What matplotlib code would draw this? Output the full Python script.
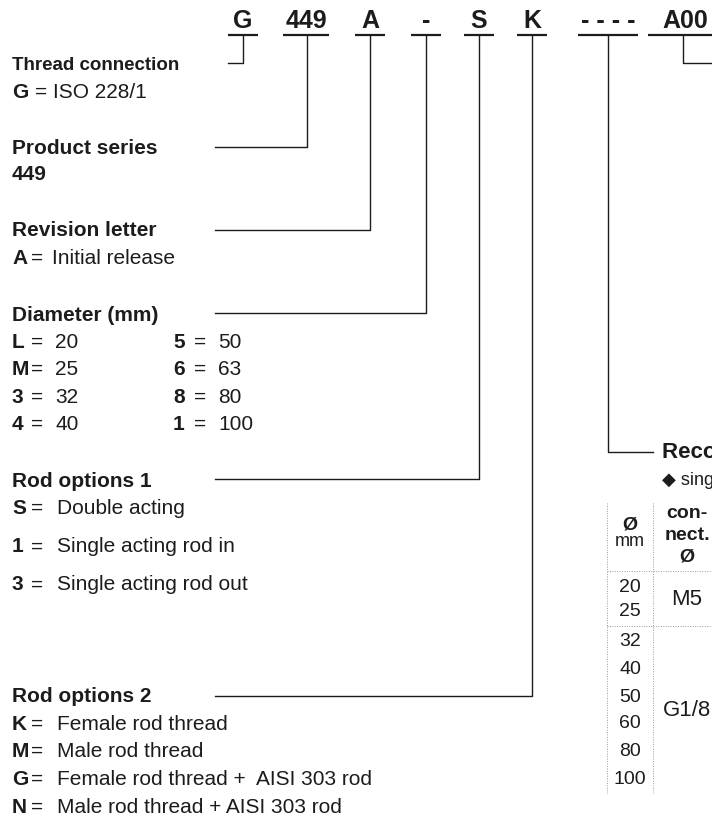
"""Ordering code key for the G449 cylinder series."""
import matplotlib.pyplot as plt

plt.rcParams["font.family"] = ["Liberation Sans", "DejaVu Sans"]
NARROW = ["Liberation Sans Narrow", "Liberation Sans", "DejaVu Sans"]

INK = "#1c1c1c"
GRID = "#9a9a9a"

# code segments along the top and the label each one points to
CODE_SEGMENTS = ["G", "449", "A", "-", "S", "K", "- - - -", "A00"]

HEADINGS = [
    "Thread connection",
    "Product series",
    "Revision letter",
    "Diameter (mm)",
    "Rod options 1",
    "Rod options 2",
]

THREAD_OPTS = [("G", "ISO 228/1")]
SERIES_OPTS = ["449"]
REVISION_OPTS = [("A", "Initial release")]
DIAMETER_KEYS_1 = ["L", "M", "3", "4"]
DIAMETER_VALS_1 = ["20", "25", "32", "40"]
DIAMETER_KEYS_2 = ["5", "6", "8", "1"]
DIAMETER_VALS_2 = ["50", "63", "80", "100"]
ROD1_OPTS = [("S", "Double acting"), ("1", "Single acting rod in"),
             ("3", "Single acting rod out")]
ROD2_OPTS = [("K", "Female rod thread"), ("M", "Male rod thread"),
             ("G", "Female rod thread +  AISI 303 rod"),
             ("N", "Male rod thread + AISI 303 rod")]

FITTING_TITLE = "Recommended fittings"
FITTING_NOTE = "\u25c6 single acting"
TABLE_BORES = ["20", "25", "32", "40", "50", "60", "80", "100"]
TABLE_CONNECT = [("M5", 2), ("G1/8", 6)]  # connection, number of bore rows

# --- layout (pixels, origin top-left) ---
SEG_X = [(228, 258), (283, 329), (355, 385), (411, 441), (464, 494),
         (517, 547), (578, 638), (648, 712)]
SEG_TEXT_X = [243, 306, 370, 426, 479, 532, 608, 662]
HEAD_Y = [65, 148, 230, 315, 481, 696]
HEAD_SIZE = [13.5, 15, 15, 15, 15, 15]
LINE_Y = [None, 147, 230, 313, 479, 696]
DROP_X = [243, 307, 370, 426, 479, 532]
FS = 15

fig = plt.figure(figsize=(7.12, 8.17), dpi=100)
ax = fig.add_axes([0, 0, 1, 1])
ax.set_xlim(0, 712)
ax.set_ylim(817, 0)
ax.set_axis_off()

# top code row
for seg, (x0, x1), tx in zip(CODE_SEGMENTS, SEG_X, SEG_TEXT_X):
    ha = "left" if seg == "A00" else "center"
    ax.text(tx, 21, seg, fontsize=18, fontweight="bold", color=INK,
            ha=ha, va="center")
    ax.plot([x0, x1], [35, 35], color=INK, lw=1.6, solid_capstyle="butt")

# connectors to the left-hand headings
ax.plot([243, 243, 228], [35, 63, 63], color=INK, lw=1.0)
for x, y in zip(DROP_X[1:], LINE_Y[1:]):
    ax.plot([x, x, 215], [35, y, y], color=INK, lw=1.0)
# connectors to the right
ax.plot([608, 608, 653], [35, 452, 452], color=INK, lw=1.0)
ax.plot([683, 683, 712], [35, 63, 63], color=INK, lw=1.0)

for head, y, s in zip(HEADINGS, HEAD_Y, HEAD_SIZE):
    ax.text(12, y, head, fontsize=s, fontweight="bold", color=INK,
            va="center")


def option(y, key, value, kx=12, ex=37, vx=55):
    ax.text(kx, y, key, fontsize=FS, fontweight="bold", color=INK, va="center")
    ax.text(ex, y, "=", fontsize=FS, color=INK, ha="center", va="center")
    ax.text(vx, y, value, fontsize=FS, color=INK, va="center")


option(92, *THREAD_OPTS[0], ex=41, vx=53)
ax.text(12, 174, SERIES_OPTS[0], fontsize=FS, fontweight="bold", color=INK,
        va="center")
option(258, *REVISION_OPTS[0], vx=52)

for i, (k, v) in enumerate(zip(DIAMETER_KEYS_1, DIAMETER_VALS_1)):
    option(342 + 27.5 * i, k, v)
for i, (k, v) in enumerate(zip(DIAMETER_KEYS_2, DIAMETER_VALS_2)):
    option(342 + 27.5 * i, k, v, kx=173, ex=200, vx=218)

for (k, v), y in zip(ROD1_OPTS, [508, 547, 585]):
    option(y, k, v, vx=57)
for i, (k, v) in enumerate(ROD2_OPTS):
    option(724 + 27.7 * i, k, v, vx=57)

# right-hand fittings table (cut by the page edge)
ax.text(662, 452, FITTING_TITLE, fontsize=16, fontweight="bold", color=INK,
        va="center")
ax.text(662, 480, FITTING_NOTE, fontsize=13, color=INK, va="center")

for x in [607, 653]:
    ax.plot([x, x], [503, 793], color=GRID, lw=0.7, ls=(0, (1, 1.5)))
for y in [571, 626]:
    ax.plot([607, 712], [y, y], color=GRID, lw=0.7, ls=(0, (1, 1.5)))

ax.text(630, 525, "\u00d8", fontsize=14, fontweight="bold", color=INK,
        ha="center", va="center", family=NARROW)
ax.text(630, 542, "mm", fontsize=13, color=INK, ha="center", va="center",
        family=NARROW)
for t, y in zip(["con-", "nect.", "\u00d8"], [513, 535, 557]):
    ax.text(687, y, t, fontsize=14, fontweight="bold", color=INK,
            ha="center", va="center", family=NARROW)

bore_y = [587, 612, 642, 669, 697, 724, 752, 779]
for b, y in zip(TABLE_BORES, bore_y):
    ax.text(630, y, b, fontsize=14, color=INK, ha="center", va="center",
            family=NARROW)

start = 0
for conn, n in TABLE_CONNECT:
    ys = bore_y[start:start + n]
    ax.text(687, sum(ys) / n, conn, fontsize=16, color=INK,
            ha="center", va="center", family=NARROW)
    start += n

fig.savefig("out.png", dpi=100, facecolor="white")
